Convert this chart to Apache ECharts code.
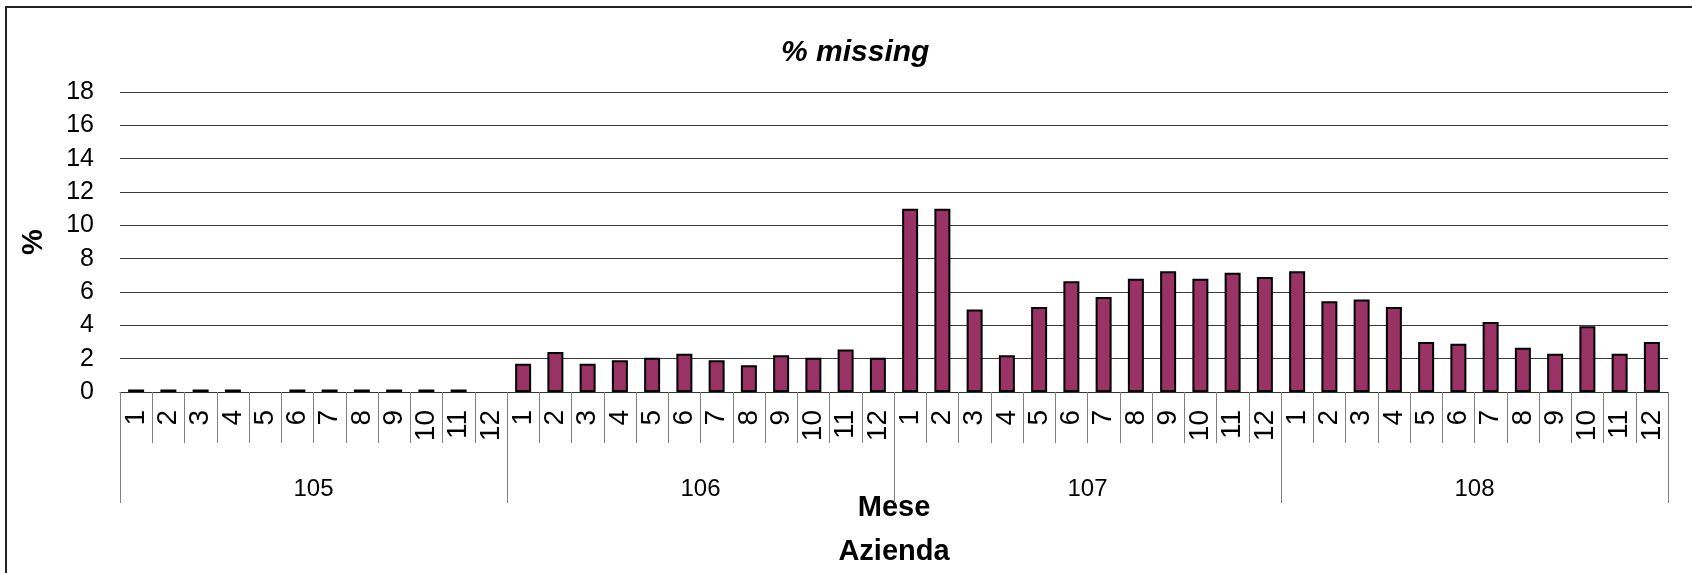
<!DOCTYPE html>
<html>
<head>
<meta charset="utf-8">
<title>% missing</title>
<script src="https://cdn.jsdelivr.net/npm/echarts@6/dist/echarts.min.js"></script>
<style>
    html, body { margin: 0; padding: 0; background: #fff; }
    #chart { width: 1692px; height: 573px; }
</style>
</head>
<body>
<div id="chart"></div>
<script>
// dati
var aziende = ['105', '106', '107', '108'];
var mesi = ['1', '2', '3', '4', '5', '6', '7', '8', '9', '10', '11', '12'];
var yTicks = [0, 2, 4, 6, 8, 10, 12, 14, 16, 18];

var missing105 = [0.15, 0.15, 0.15, 0.15, 0, 0.15, 0.15, 0.15, 0.15, 0.15, 0.15, 0];
var missing106 = [1.7, 2.4, 1.7, 1.9, 2.05, 2.3, 1.9, 1.6, 2.2, 2.05, 2.55, 2.05];
var missing107 = [11.0, 11.0, 4.95, 2.2, 5.1, 6.65, 5.7, 6.8, 7.25, 6.8, 7.15, 6.9];
var missing108 = [7.25, 5.45, 5.55, 5.1, 3.0, 2.9, 4.2, 2.65, 2.3, 3.95, 2.3, 3.0];

var fontName = '"Liberation Sans", Arial, sans-serif';

var categorie = [];
var valori = [];
[missing105, missing106, missing107, missing108].forEach(function (serie) {
    for (var i = 0; i < mesi.length; i++) {
        categorie.push(mesi[i]);
        // i mesi a zero non hanno barra (nemmeno il bordo)
        if (serie[i] === 0) {
            valori.push({ value: 0, itemStyle: { borderWidth: 0 } });
        } else {
            valori.push(serie[i]);
        }
    }
});

var myChart = echarts.init(document.getElementById('chart'));

var option = {
    backgroundColor: '#ffffff',
    animation: false,
    textStyle: { fontFamily: fontName, color: '#000' },
    title: {
        text: '% missing',
        left: 776,
        top: 33,
        textStyle: {
            fontFamily: fontName,
            fontSize: 30,
            fontWeight: 'bold',
            fontStyle: 'italic',
            color: '#000'
        }
    },
    graphic: [{
        type: 'rect',
        shape: { x: 6, y: 7, width: 1800, height: 700 },
        style: { fill: 'none', stroke: '#222', lineWidth: 2 },
        silent: true
    }],
    grid: {
        left: 120,
        right: 24,
        top: 92,
        bottom: 181,
        outerBoundsMode: 'none'
    },
    xAxis: [
        {
            type: 'category',
            data: categorie,
            position: 'bottom',
            name: 'Mese',
            nameLocation: 'middle',
            nameGap: 101,
            nameTextStyle: { fontFamily: fontName, fontSize: 29, fontWeight: 'bold', color: '#000' },
            axisLine: { show: true, lineStyle: { color: '#333', width: 1 } },
            axisTick: { show: true, length: 51, lineStyle: { color: '#808080', width: 1 } },
            axisLabel: {
                interval: 0,
                rotate: 90,
                margin: 18,
                fontSize: 28,
                color: '#000',
                fontFamily: fontName
            },
            splitLine: { show: false }
        },
        {
            type: 'category',
            data: aziende,
            position: 'bottom',
            name: 'Azienda',
            nameLocation: 'middle',
            nameGap: 145,
            nameTextStyle: { fontFamily: fontName, fontSize: 29, fontWeight: 'bold', color: '#000' },
            axisLine: { show: false },
            axisTick: { show: true, length: 111, lineStyle: { color: '#808080', width: 1 } },
            axisLabel: {
                interval: 0,
                margin: 85,
                fontSize: 24,
                color: '#000',
                fontFamily: fontName
            },
            splitLine: { show: false }
        }
    ],
    yAxis: {
        type: 'value',
        min: yTicks[0],
        max: yTicks[yTicks.length - 1],
        interval: 2,
        name: '%',
        nameLocation: 'middle',
        nameGap: 72,
        nameTextStyle: { fontFamily: fontName, fontSize: 29, fontWeight: 'bold', color: '#000' },
        axisLine: { show: false },
        axisTick: { show: false },
        axisLabel: { margin: 26, fontSize: 25, color: '#000', fontFamily: fontName },
        splitLine: { show: true, lineStyle: { color: '#3a3a3a', width: 1 } }
    },
    series: [
        {
            name: '% missing',
            type: 'bar',
            xAxisIndex: 0,
            data: valori,
            barWidth: 16,
            itemStyle: {
                color: '#993366',
                borderColor: '#000',
                borderWidth: 2
            }
        }
    ]
};

myChart.setOption(option);
</script>
</body>
</html>
